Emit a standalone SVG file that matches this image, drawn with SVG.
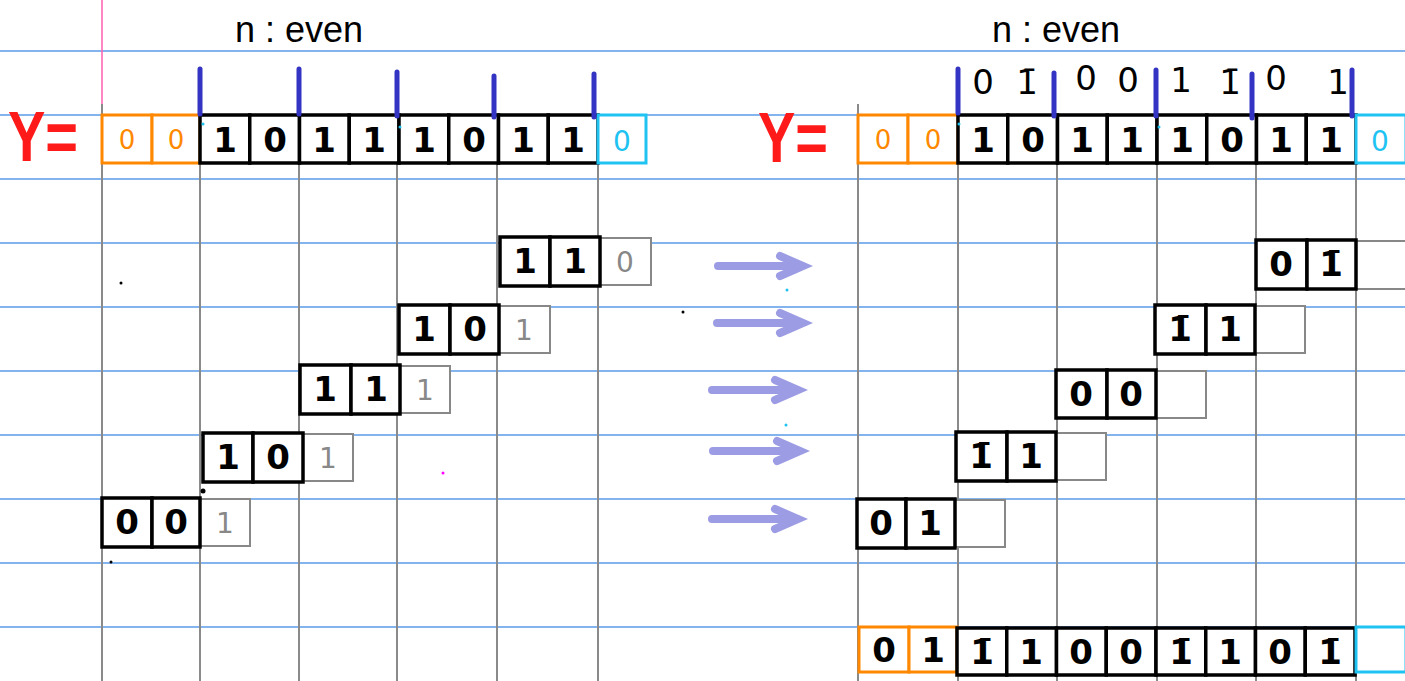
<svg xmlns="http://www.w3.org/2000/svg" width="1405" height="681" viewBox="0 0 1405 681">
<style>
.bg{fill:#fff}
.gh{stroke:#5b9be8;stroke-width:1.5}
.gv{stroke:#8a8a8a;stroke-width:2}
.mg{stroke:#ff5fb0;stroke-width:1.5}
.cell{fill:#fff;stroke:#000;stroke-width:3.5}
.ghost{fill:#fff;stroke:#888;stroke-width:2}
.org{fill:#fff;stroke:#ff8800;stroke-width:3}
.cy{fill:#fff;stroke:#1ec3f2;stroke-width:3}
.dv{stroke:#3434c4;stroke-width:5;stroke-linecap:round}
.d{font-family:"DejaVu Sans",sans-serif;font-weight:bold;font-size:34px;text-anchor:middle;fill:#000}
.dg{font-family:"DejaVu Sans",sans-serif;font-size:28px;text-anchor:middle;fill:#888}
.do{font-family:"DejaVu Sans",sans-serif;font-size:26px;text-anchor:middle;fill:#ff8800}
.dc{font-family:"DejaVu Sans",sans-serif;font-size:28px;text-anchor:middle;fill:#1ec3f2}
.lab{font-family:"DejaVu Sans",sans-serif;font-size:34px;text-anchor:middle;fill:#000}
.y{font-family:"Liberation Sans",sans-serif;font-weight:bold;font-size:56px;fill:#ff1a1a}
.title{font-family:"Liberation Sans",sans-serif;font-size:36px;text-anchor:middle;fill:#000}
.ar{stroke:#5a5ad2;stroke-opacity:0.6;stroke-width:8;stroke-linecap:round;fill:none}
</style>
<rect class="bg" x="0" y="0" width="1405" height="681"/>
<g id="paper">
<line class="gh" x1="0" y1="51" x2="1405" y2="51"/>
<line class="gh" x1="0" y1="115" x2="1405" y2="115"/>
<line class="gh" x1="0" y1="179" x2="1405" y2="179"/>
<line class="gh" x1="0" y1="243" x2="1405" y2="243"/>
<line class="gh" x1="0" y1="307" x2="1405" y2="307"/>
<line class="gh" x1="0" y1="371" x2="1405" y2="371"/>
<line class="gh" x1="0" y1="435" x2="1405" y2="435"/>
<line class="gh" x1="0" y1="499" x2="1405" y2="499"/>
<line class="gh" x1="0" y1="563" x2="1405" y2="563"/>
<line class="gh" x1="0" y1="627" x2="1405" y2="627"/>
<line class="mg" x1="102" y1="0" x2="102" y2="681"/>
<line class="gv" x1="102" y1="104" x2="102" y2="681"/>
<line class="gv" x1="200" y1="115" x2="200" y2="681"/>
<line class="gv" x1="299" y1="115" x2="299" y2="681"/>
<line class="gv" x1="397" y1="115" x2="397" y2="681"/>
<line class="gv" x1="497" y1="115" x2="497" y2="681"/>
<line class="gv" x1="598" y1="115" x2="598" y2="681"/>
<line class="gv" x1="858" y1="104" x2="858" y2="681"/>
<line class="gv" x1="958" y1="115" x2="958" y2="681"/>
<line class="gv" x1="1057" y1="115" x2="1057" y2="681"/>
<line class="gv" x1="1157" y1="115" x2="1157" y2="681"/>
<line class="gv" x1="1256" y1="115" x2="1256" y2="681"/>
<line class="gv" x1="1356" y1="115" x2="1356" y2="681"/>
</g>
<g id="title-left"><text class="title" x="299" y="42">n : even</text></g>
<g id="title-right"><text class="title" x="1056" y="42">n : even</text></g>
<g id="y-left"><text class="y" transform="translate(8,161) scale(1,1.25)" x="0" y="0">Y=</text></g>
<g id="y-right"><text class="y" transform="translate(758,162) scale(1,1.25)" x="0" y="0">Y=</text></g>
<g id="row-left">
<rect class="org" x="102" y="115" width="50" height="48"/>
<rect class="org" x="152" y="115" width="48" height="48"/>
<rect class="cell" x="200" y="115" width="49.75" height="48"/>
<rect class="cell" x="249.75" y="115" width="49.75" height="48"/>
<rect class="cell" x="299.5" y="115" width="49.75" height="48"/>
<rect class="cell" x="349.25" y="115" width="49.75" height="48"/>
<rect class="cell" x="399" y="115" width="49.75" height="48"/>
<rect class="cell" x="448.75" y="115" width="49.75" height="48"/>
<rect class="cell" x="498.5" y="115" width="49.75" height="48"/>
<rect class="cell" x="548.25" y="115" width="49.75" height="48"/>
<rect class="cy" x="598" y="115" width="48" height="48"/>
<text class="do" x="127" y="149">0</text>
<text class="do" x="176" y="149">0</text>
<text class="d" x="225" y="152">1</text>
<text class="d" x="275" y="152">0</text>
<text class="d" x="324" y="152">1</text>
<text class="d" x="374" y="152">1</text>
<text class="d" x="424" y="152">1</text>
<text class="d" x="474" y="152">0</text>
<text class="d" x="523" y="152">1</text>
<text class="d" x="573" y="152">1</text>
<text class="dc" x="622" y="151">0</text>
</g>
<g id="row-right">
<rect class="org" x="858" y="115" width="50" height="48"/>
<rect class="org" x="908" y="115" width="50" height="48"/>
<rect class="cell" x="958" y="115" width="49.75" height="48"/>
<rect class="cell" x="1007.75" y="115" width="49.75" height="48"/>
<rect class="cell" x="1057.5" y="115" width="49.75" height="48"/>
<rect class="cell" x="1107.25" y="115" width="49.75" height="48"/>
<rect class="cell" x="1157" y="115" width="49.75" height="48"/>
<rect class="cell" x="1206.75" y="115" width="49.75" height="48"/>
<rect class="cell" x="1256.5" y="115" width="49.75" height="48"/>
<rect class="cell" x="1306.25" y="115" width="49.75" height="48"/>
<rect class="cy" x="1356" y="115" width="50" height="48"/>
<text class="do" x="883" y="149">0</text>
<text class="do" x="933" y="149">0</text>
<text class="d" x="983" y="152">1</text>
<text class="d" x="1033" y="152">0</text>
<text class="d" x="1082" y="152">1</text>
<text class="d" x="1132" y="152">1</text>
<text class="d" x="1182" y="152">1</text>
<text class="d" x="1232" y="152">0</text>
<text class="d" x="1281" y="152">1</text>
<text class="d" x="1331" y="152">1</text>
<text class="dc" x="1380" y="151">0</text>
</g>
<g id="labels-right">
<text class="lab" x="983" y="94">0</text>
<text class="lab" x="1027" y="94">1̄</text>
<text class="lab" x="1086" y="90">0</text>
<text class="lab" x="1128" y="92">0</text>
<text class="lab" x="1181" y="92">1</text>
<text class="lab" x="1230" y="94">1̄</text>
<text class="lab" x="1276" y="90">0</text>
<text class="lab" x="1338" y="94">1</text>
</g>
<g id="dividers">
<line class="dv" x1="200" y1="69" x2="200" y2="114"/>
<line class="dv" x1="299" y1="69" x2="299" y2="114"/>
<line class="dv" x1="397" y1="72" x2="397" y2="116"/>
<line class="dv" x1="494" y1="76" x2="494" y2="117"/>
<line class="dv" x1="594" y1="74" x2="594" y2="117"/>
<line class="dv" x1="958" y1="69" x2="958" y2="113"/>
<line class="dv" x1="1054" y1="73" x2="1054" y2="116"/>
<line class="dv" x1="1156" y1="70" x2="1156" y2="116"/>
<line class="dv" x1="1252" y1="74" x2="1252" y2="118"/>
<line class="dv" x1="1352" y1="70" x2="1352" y2="116"/>
</g>
<g id="step-left-1">
<rect class="ghost" x="600" y="238" width="51" height="47"/>
<rect class="cell" x="500" y="237" width="50" height="49"/>
<rect class="cell" x="550" y="237" width="50" height="49"/>
<text class="d" x="525" y="273">1</text>
<text class="d" x="575" y="273">1</text>
<text class="dg" x="625" y="272">0</text>
</g>
<g id="step-left-2">
<rect class="ghost" x="499" y="306" width="51" height="47"/>
<rect class="cell" x="399" y="305" width="51" height="49"/>
<rect class="cell" x="450" y="305" width="49" height="49"/>
<text class="d" x="424" y="341">1</text>
<text class="d" x="475" y="341">0</text>
<text class="dg" x="524" y="340">1</text>
</g>
<g id="step-left-3">
<rect class="ghost" x="400" y="366" width="50" height="47"/>
<rect class="cell" x="300" y="365" width="51" height="49"/>
<rect class="cell" x="351" y="365" width="49" height="49"/>
<text class="d" x="325" y="401">1</text>
<text class="d" x="376" y="401">1</text>
<text class="dg" x="425" y="400">1</text>
</g>
<g id="step-left-4">
<rect class="ghost" x="303" y="434" width="50" height="47"/>
<rect class="cell" x="203" y="433" width="50" height="49"/>
<rect class="cell" x="253" y="433" width="50" height="49"/>
<text class="d" x="228" y="469">1</text>
<text class="d" x="278" y="469">0</text>
<text class="dg" x="328" y="468">1</text>
</g>
<g id="step-left-5">
<rect class="ghost" x="200" y="499" width="50" height="47"/>
<rect class="cell" x="102" y="498" width="50" height="49"/>
<rect class="cell" x="152" y="498" width="48" height="49"/>
<text class="d" x="127" y="534">0</text>
<text class="d" x="176" y="534">0</text>
<text class="dg" x="225" y="533">1</text>
</g>
<g id="arrows">
<path class="ar" d="M718 266 H803 M780 256 L803 266 L780 276"/>
<path class="ar" d="M717 323 H803 M780 313 L803 323 L780 333"/>
<path class="ar" d="M712 390 H798 M775 380 L798 390 L775 400"/>
<path class="ar" d="M713 451 H800 M777 441 L800 451 L777 461"/>
<path class="ar" d="M712 519 H798 M775 509 L798 519 L775 529"/>
</g>
<g id="step-right-1">
<rect class="ghost" x="1356" y="241" width="52" height="48"/>
<rect class="cell" x="1256" y="240" width="51" height="49"/>
<rect class="cell" x="1307" y="240" width="49" height="49"/>
<text class="d" x="1281" y="276">0</text>
<text class="d" x="1331" y="276">1̄</text>
</g>
<g id="step-right-2">
<rect class="ghost" x="1255" y="306" width="50" height="47"/>
<rect class="cell" x="1155" y="305" width="51" height="49"/>
<rect class="cell" x="1206" y="305" width="49" height="49"/>
<text class="d" x="1180" y="341">1̄</text>
<text class="d" x="1230" y="341">1</text>
</g>
<g id="step-right-3">
<rect class="ghost" x="1156" y="371" width="50" height="47"/>
<rect class="cell" x="1056" y="370" width="51" height="48"/>
<rect class="cell" x="1107" y="370" width="49" height="48"/>
<text class="d" x="1081" y="406">0</text>
<text class="d" x="1131" y="406">0</text>
</g>
<g id="step-right-4">
<rect class="ghost" x="1056" y="433" width="50" height="47"/>
<rect class="cell" x="956" y="432" width="51" height="49"/>
<rect class="cell" x="1007" y="432" width="49" height="49"/>
<text class="d" x="981" y="468">1̄</text>
<text class="d" x="1031" y="468">1</text>
</g>
<g id="step-right-5">
<rect class="ghost" x="955" y="500" width="50" height="47"/>
<rect class="cell" x="857" y="499" width="49" height="49"/>
<rect class="cell" x="906" y="499" width="49" height="49"/>
<text class="d" x="881" y="535">0</text>
<text class="d" x="930" y="535">1</text>
</g>
<g id="result-right">
<rect class="org" x="859" y="627" width="50" height="45"/>
<rect class="org" x="909" y="627" width="48" height="45"/>
<rect class="cell" x="957" y="628" width="49.75" height="47"/>
<rect class="cell" x="1006.75" y="628" width="49.75" height="47"/>
<rect class="cell" x="1056.5" y="628" width="49.75" height="47"/>
<rect class="cell" x="1106.25" y="628" width="49.75" height="47"/>
<rect class="cell" x="1156" y="628" width="49.75" height="47"/>
<rect class="cell" x="1205.75" y="628" width="49.75" height="47"/>
<rect class="cell" x="1255.5" y="628" width="49.75" height="47"/>
<rect class="cell" x="1305.25" y="628" width="49.75" height="47"/>
<rect class="cy" x="1356" y="627" width="50" height="45"/>
<text class="d" x="884" y="662">0</text>
<text class="d" x="933" y="662">1</text>
<text class="d" x="982" y="664">1̄</text>
<text class="d" x="1031" y="664">1</text>
<text class="d" x="1081" y="664">0</text>
<text class="d" x="1131" y="664">0</text>
<text class="d" x="1181" y="664">1̄</text>
<text class="d" x="1230" y="664">1</text>
<text class="d" x="1280" y="664">0</text>
<text class="d" x="1330" y="664">1̄</text>
</g>
<g id="specks">
<circle cx="121" cy="283" r="1.5" fill="#000"/>
<circle cx="683" cy="312" r="1.5" fill="#000"/>
<circle cx="203" cy="491" r="2.5" fill="#000"/>
<circle cx="111" cy="562" r="1.5" fill="#000"/>
<circle cx="443" cy="473" r="1.5" fill="#ff00ff"/>
<circle cx="787" cy="290" r="1.5" fill="#1ec3f2"/>
<circle cx="786" cy="425" r="1.5" fill="#1ec3f2"/>
<circle cx="203" cy="124" r="1.5" fill="#1ec3f2"/>
<circle cx="400" cy="127" r="1.5" fill="#1ec3f2"/>
<circle cx="959" cy="124" r="1.5" fill="#1ec3f2"/>
<circle cx="1159" cy="127" r="1.5" fill="#1ec3f2"/>
</g>
</svg>
